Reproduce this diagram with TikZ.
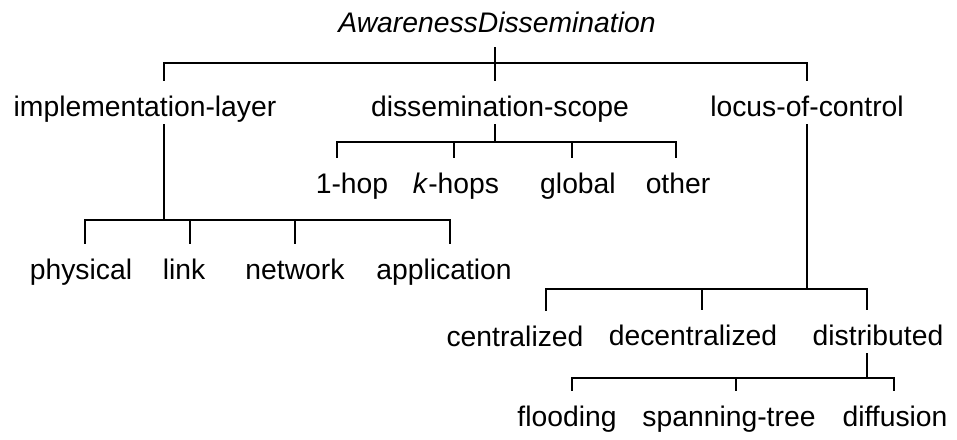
\documentclass[tikz,border=0pt]{standalone}
\usepackage{fontspec}
\setmainfont{Liberation Sans}

\begin{document}
\begin{tikzpicture}[x=1pt,y=-1pt,font=\fontsize{28.3}{32}\selectfont,
  lbl/.style={anchor=base,inner xsep=2pt,inner ysep=2pt,
    text height=33pt,text depth=6pt},
  tree/.style={draw=black,line width=2pt}]
  \useasboundingbox (0,0) rectangle (957,439);
  \coordinate (rootbar) at (0,63);
  \coordinate (scopebar) at (0,142);
  \coordinate (implbar) at (0,220);
  \coordinate (locusbar) at (0,289);
  \coordinate (distbar) at (0,378);
  \node[lbl,text depth=13pt,font=\fontsize{28.3}{32}\selectfont\itshape] (awdiss) at (497,32) {AwarenessDissemination};
  \node[lbl] (impl) at (145,116) {implementation-layer};
  \node[lbl] (scope) at (500,116) {dissemination-scope};
  \node[lbl] (locus) at (807,116) {locus-of-control};
  \node[lbl] (hop1) at (352,193) {1-hop};
  \node[lbl] (khops) at (456,193) {\textit{k}-hops};
  \node[lbl] (global) at (578,193) {global};
  \node[lbl] (other) at (678,193) {other};
  \node[lbl] (phys) at (81,279) {physical};
  \node[lbl] (link) at (184,279) {link};
  \node[lbl] (net) at (295,279) {network};
  \node[lbl] (app) at (444,279) {application};
  \node[lbl] (central) at (515,346) {centralized};
  \node[lbl] (decentral) at (693,345) {decentralized};
  \node[lbl] (distrib) at (878,345) {distributed};
  \node[lbl] (flood) at (567,426) {flooding};
  \node[lbl] (span) at (729,426) {spanning-tree};
  \node[lbl] (diffu) at (895,426) {diffusion};
  \draw[tree] ([xshift=-2pt]awdiss.south) -- ([xshift=-2pt]awdiss.south |- rootbar);
  \foreach \c/\dx in {impl/19,scope/-5,locus/0}
    \draw[tree] ([xshift=-2pt]awdiss.south |- rootbar) -| ([xshift=\dx pt]\c.north);
  \draw[tree] ([xshift=-5pt]scope.south) -- ([xshift=-5pt]scope.south |- scopebar);
  \foreach \c/\dx in {hop1/-15,khops/-2,global/-6,other/-2}
    \draw[tree] ([xshift=-5pt]scope.south |- scopebar) -| ([xshift=\dx pt]\c.north);
  \draw[tree] ([xshift=19pt]impl.south) -- ([xshift=19pt]impl.south |- implbar);
  \foreach \c/\dx in {phys/4,link/6,net/0,app/6}
    \draw[tree] ([xshift=19pt]impl.south |- implbar) -| ([xshift=\dx pt]\c.north);
  \draw[tree] (locus.south) -- (locus.south |- locusbar);
  \foreach \c/\dx in {central/31,decentral/9,distrib/-11}
    \draw[tree] (locus.south |- locusbar) -| ([xshift=\dx pt]\c.north);
  \draw[tree] ([xshift=-11pt]distrib.south) -- ([xshift=-11pt]distrib.south |- distbar);
  \foreach \c/\dx in {flood/5,span/7,diffu/-1}
    \draw[tree] ([xshift=-11pt]distrib.south |- distbar) -| ([xshift=\dx pt]\c.north);
\end{tikzpicture}
\end{document}
